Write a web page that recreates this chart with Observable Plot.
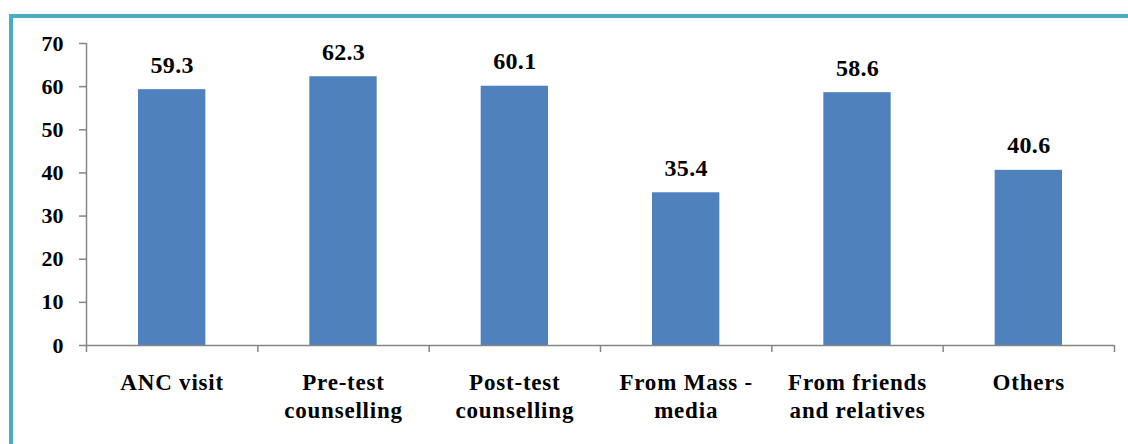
<!DOCTYPE html>
<html>
<head>
<meta charset="utf-8">
<script src="https://cdn.jsdelivr.net/npm/d3@7"></script>
<script src="https://cdn.jsdelivr.net/npm/@observablehq/plot@0.6"></script>
<style>
  html, body { margin: 0; padding: 0; background: #fff; }
  #wrap { position: relative; width: 1128px; height: 444px; overflow: hidden; }
  #frame { position: absolute; left: 9px; top: 14px; width: 1130px; height: 440px;
           border-top: 4px solid #4BACC6; border-left: 4px solid #4BACC6; box-sizing: border-box; }
  #wrap svg { position: absolute; left: 0; top: 0; }
  .cat-label text, .cat-label tspan { letter-spacing: 0.8px; }
  .val-label text { letter-spacing: 0.3px; }
</style>
</head>
<body>
<div id="wrap"><div id="frame"></div></div>
<script>
const categories = ["ANC visit", "Pre-test\ncounselling", "Post-test\ncounselling", "From Mass -\nmedia", "From friends\nand relatives", "Others"];
const values = [59.3, 62.3, 60.1, 35.4, 58.6, 40.6];
const yTicks = [0, 10, 20, 30, 40, 50, 60, 70];

const data = categories.map((c, i) => ({cat: c, idx: i, value: values[i]}));
const font = "Liberation Serif";

const chart = Plot.plot({
  width: 1128,
  height: 444,
  marginLeft: 86,
  marginRight: 14,
  marginTop: 43,
  marginBottom: 99,
  style: {fontFamily: font, background: "transparent", overflow: "visible"},
  x: {type: "linear", domain: [0, categories.length], axis: null},
  y: {domain: [0, 70], axis: null},
  marks: [
    Plot.rectY(data, {x1: d => d.idx, x2: d => d.idx + 1, y1: 0, y2: "value", fill: "#4F81BD", insetLeft: 52, insetRight: 52}),
    Plot.axisY({ticks: yTicks, tickSize: 7, tickPadding: 16, stroke: "#868686", strokeWidth: 1.5, fill: "#000", fontSize: 22, fontWeight: "bold", fontFamily: font, tickFormat: d => d, label: null}),
    Plot.axisX({ticks: d3.range(categories.length + 1), tickSize: 7, stroke: "#868686", strokeWidth: 1.5, tickFormat: () => "", label: null}),
    Plot.ruleY([0], {stroke: "#868686", strokeWidth: 1.5}),
    Plot.ruleX([0], {stroke: "#868686", strokeWidth: 1.5}),
    Plot.text(data, {x: d => d.idx + 0.5, y: "value", text: d => d.value.toFixed(1), dy: -17, lineAnchor: "bottom", fontSize: 24, fontWeight: "bold", fontFamily: font, fill: "#000", className: "val-label"}),
    Plot.text(data, {x: d => d.idx + 0.5, y: 0, text: "cat", dy: 25, lineAnchor: "top", lineHeight: 1.22, fontSize: 23, fontWeight: "bold", fontFamily: font, fill: "#000", className: "cat-label"})
  ]
});
document.getElementById("wrap").appendChild(chart);
</script>
</body>
</html>
